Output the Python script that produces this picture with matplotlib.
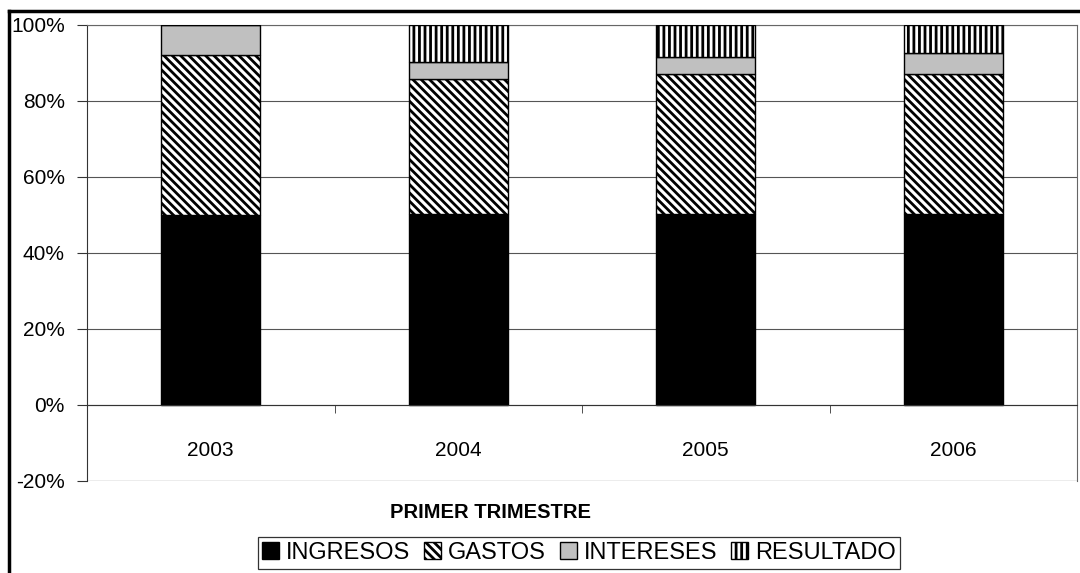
import numpy as np
import matplotlib
matplotlib.use("Agg")
import matplotlib.pyplot as plt
from matplotlib.lines import Line2D
from matplotlib.ticker import FuncFormatter, FixedLocator

plt.rcParams['font.family'] = ['Liberation Sans', 'DejaVu Sans']
plt.rcParams['hatch.linewidth'] = 2.0

# data (percent of each stacked bar)
years = ['2003', '2004', '2005', '2006']
ingresos = [50.0, 50.3, 50.3, 50.3]
gastos = [42.0, 35.5, 36.8, 36.8]
intereses = [8.0, 4.5, 4.6, 5.6]
resultado = [0.0, 9.7, 8.3, 7.3]

series = [
    ('INGRESOS', ingresos, 'black', ''),
    ('GASTOS', gastos, 'white', '\\\\\\\\'),
    ('INTERESES', intereses, '#c0c0c0', ''),
    ('RESULTADO', resultado, 'white', '|||'),
]

W, H = 1080, 573
fig = plt.figure(figsize=(W / 100, H / 100), dpi=100)
ax = fig.add_axes([87 / W, 1 - 481 / H, (1077 - 87) / W, (481 - 25) / H])

x = np.arange(len(years))
bottom = np.zeros(len(years))
handles = []
for name, vals, fc, hatch in series:
    bars = ax.bar(x, vals, width=0.4, bottom=bottom, color=fc, edgecolor='black',
                  linewidth=1.0, hatch=hatch, label=name, zorder=3)
    bottom += np.array(vals)
    handles.append(bars)

ax.set_xlim(-0.5, len(years) - 0.5)
ax.set_ylim(-20, 100)
ax.set_yticks(np.arange(-20, 101, 20))
ax.yaxis.set_major_formatter(FuncFormatter(lambda v, p: f'{v:.0f}%'))
ax.grid(axis='y', color='#555555', linewidth=0.8, zorder=0)

ax.spines['bottom'].set_position(('data', 0))
ax.spines['bottom'].set_color('#333333')
ax.spines['bottom'].set_zorder(4)
ax.spines['left'].set_color('#333333')
for s in ['top', 'right']:
    ax.spines[s].set_color('#666666')
ax.axhline(-20, color='#555555', linewidth=0.8, zorder=1)

ax.set_xticks(x)
ax.set_xticklabels(years)
ax.xaxis.set_minor_locator(FixedLocator(np.arange(0.5, len(years) - 0.5, 1)))
ax.tick_params(axis='x', which='major', length=0, pad=26, labelsize=15)
ax.tick_params(axis='x', which='minor', length=6, direction='out', color='#333333')
ax.tick_params(axis='y', length=7, direction='out', pad=9, labelsize=15, color='#333333')

fig.text(491 / W, 1 - 512 / H, 'PRIMER TRIMESTRE', ha='center', va='center',
         fontsize=14.5, fontweight='bold')

leg = fig.legend(handles=handles, loc='center', bbox_to_anchor=(579 / W, 1 - 553 / H),
                 ncol=4, frameon=True, fancybox=False, edgecolor='black',
                 fontsize=17, handlelength=0.7, handleheight=0.7, handletextpad=0.3,
                 columnspacing=0.6, borderpad=0.2, borderaxespad=0)
leg.get_frame().set_linewidth(0.9)

# chart area border (cut by the image edges)
fig.add_artist(Line2D([9 / W, 1], [1 - 11 / H, 1 - 11 / H], color='black', linewidth=2.5))
fig.add_artist(Line2D([9 / W, 9 / W], [0, 1 - 11 / H], color='black', linewidth=2.5))

fig.savefig('out.png', dpi=100)
